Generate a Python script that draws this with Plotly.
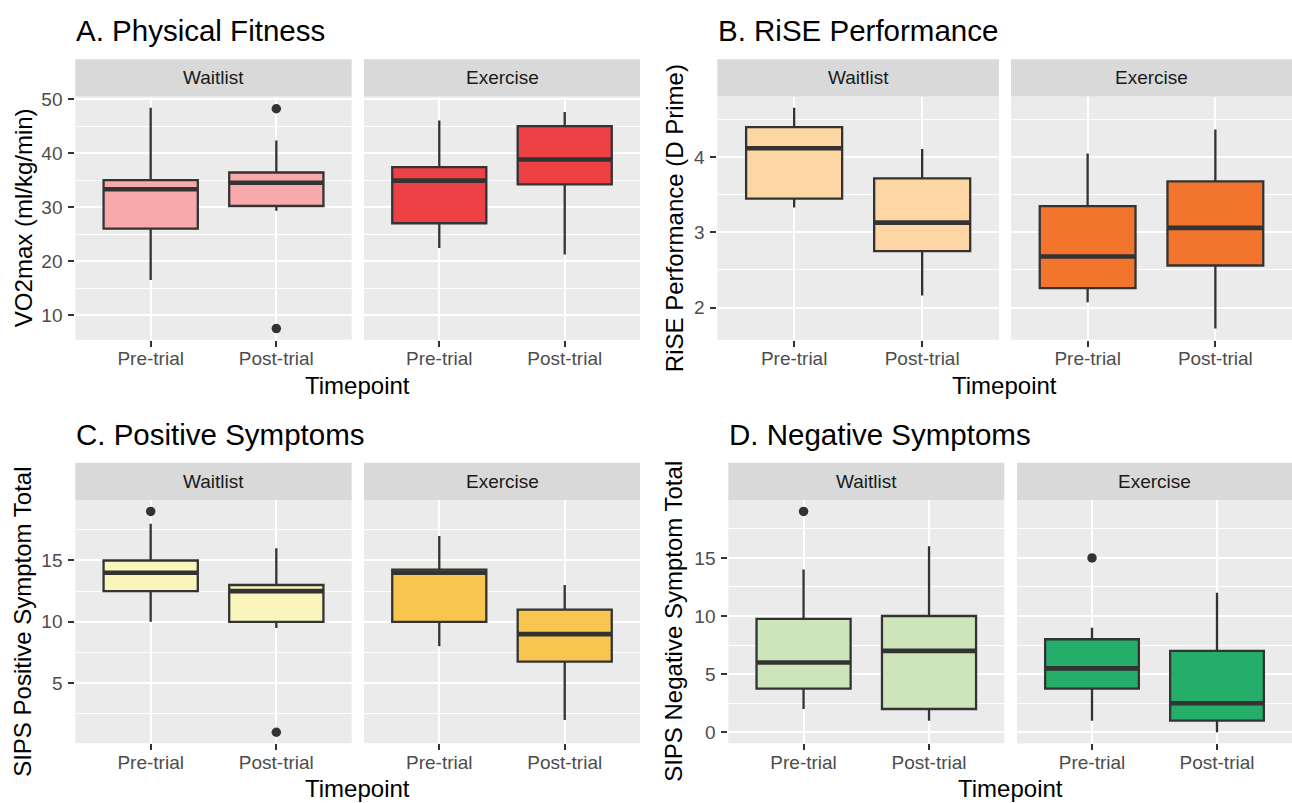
import plotly.graph_objects as go

FIG_W, FIG_H = 1292, 803
FONT = "Liberation Sans, Arial, Helvetica, sans-serif"

groups = ["Waitlist", "Exercise"]
timepoints = ["Pre-trial", "Post-trial"]

# Box statistics, ordered: Waitlist pre, Waitlist post, Exercise pre, Exercise post
vo2_q1 = [26.0, 30.2, 27.0, 34.2]
vo2_median = [33.3, 34.5, 34.9, 38.8]
vo2_q3 = [35.0, 36.4, 37.4, 45.0]
vo2_lower = [16.5, 29.3, 22.4, 21.2]
vo2_upper = [48.4, 42.3, 46.0, 47.6]
vo2_out_group = ["Waitlist", "Waitlist"]
vo2_out_time = ["Post-trial", "Post-trial"]
vo2_out_value = [48.2, 7.5]

rise_q1 = [3.45, 2.75, 2.26, 2.56]
rise_median = [4.12, 3.13, 2.68, 3.06]
rise_q3 = [4.40, 3.72, 3.35, 3.68]
rise_lower = [3.33, 2.16, 2.07, 1.72]
rise_upper = [4.66, 4.11, 4.05, 4.37]
rise_out_group = []
rise_out_time = []
rise_out_value = []

pos_q1 = [12.5, 10.0, 10.0, 6.75]
pos_median = [14.0, 12.5, 14.0, 9.0]
pos_q3 = [15.0, 13.0, 14.25, 11.0]
pos_lower = [10.0, 9.5, 8.0, 2.0]
pos_upper = [18.0, 16.0, 17.0, 13.0]
pos_out_group = ["Waitlist", "Waitlist"]
pos_out_time = ["Pre-trial", "Post-trial"]
pos_out_value = [19.0, 1.0]

neg_q1 = [3.75, 2.0, 3.75, 1.0]
neg_median = [6.0, 7.0, 5.5, 2.5]
neg_q3 = [9.75, 10.0, 8.0, 7.0]
neg_lower = [2.0, 1.0, 1.0, 0.0]
neg_upper = [14.0, 16.0, 9.0, 12.0]
neg_out_group = ["Waitlist", "Exercise"]
neg_out_time = ["Pre-trial", "Pre-trial"]
neg_out_value = [19.0, 15.0]

panels = [
    dict(title="A. Physical Fitness", ytitle="VO2max (ml/kg/min)",
         q1=vo2_q1, med=vo2_median, q3=vo2_q3, lo=vo2_lower, hi=vo2_upper,
         og=vo2_out_group, ot=vo2_out_time, ov=vo2_out_value,
         colors=["#F7A9AC", "#EE4146"], dtick=10, tick0=0,
         cols=[(75.3, 351.7), (364.0, 640.0)], row=0, ytitle_x=23),
    dict(title="B. RiSE Performance", ytitle="RiSE Performance (D Prime)",
         q1=rise_q1, med=rise_median, q3=rise_q3, lo=rise_lower, hi=rise_upper,
         og=rise_out_group, ot=rise_out_time, ov=rise_out_value,
         colors=["#FDD6A3", "#F3742D"], dtick=1, tick0=0,
         cols=[(717.3, 999.0), (1011.0, 1292.0)], row=0, ytitle_x=674),
    dict(title="C. Positive Symptoms", ytitle="SIPS Positive Symptom Total",
         q1=pos_q1, med=pos_median, q3=pos_q3, lo=pos_lower, hi=pos_upper,
         og=pos_out_group, ot=pos_out_time, ov=pos_out_value,
         colors=["#F9F5BB", "#F8C54F"], dtick=5, tick0=0,
         cols=[(75.3, 351.7), (364.0, 640.0)], row=1, ytitle_x=23),
    dict(title="D. Negative Symptoms", ytitle="SIPS Negative Symptom Total",
         q1=neg_q1, med=neg_median, q3=neg_q3, lo=neg_lower, hi=neg_upper,
         og=neg_out_group, ot=neg_out_time, ov=neg_out_value,
         colors=["#CEE5BB", "#25AE6A"], dtick=5, tick0=0,
         cols=[(728.3, 1004.3), (1017.0, 1292.0)], row=1, ytitle_x=674),
]

# vertical layout of the two rows (pixels from top)
rows = [
    dict(strip_top=51.7, panel_top=89.5, panel_bottom=335.0, title_y=22.7, xtitle_y=381.0),
    dict(strip_top=459.3, panel_top=497.3, panel_bottom=742.7, title_y=430.3, xtitle_y=788.6),
]

BOX_W = 0.75
OUTLINE = "#333333"


def fx(px):
    return px / FIG_W


def fy(px):
    return 1 - px / FIG_H


fig = go.Figure()
layout = dict(
    width=FIG_W, height=FIG_H,
    margin=dict(l=0, r=0, t=0, b=0, pad=0),
    paper_bgcolor="white", plot_bgcolor="#EBEBEB",
    showlegend=False,
    font=dict(family=FONT),
)
shapes = []
annotations = []

ax = 0
for p in panels:
    r = rows[p["row"]]
    vals = p["lo"] + p["hi"] + p["ov"]
    vmin, vmax = min(vals), max(vals)
    pad = (vmax - vmin) * 0.05
    yrange = [vmin - pad, vmax + pad]

    for gi, g in enumerate(groups):
        ax += 1
        xa = "x" if ax == 1 else f"x{ax}"
        ya = "y" if ax == 1 else f"y{ax}"
        x0, x1 = p["cols"][gi]

        for ti, t in enumerate(timepoints):
            k = gi * 2 + ti
            pos = ti + 1
            fig.add_trace(go.Box(
                x=[pos], q1=[p["q1"][k]], median=[p["med"][k]], q3=[p["q3"][k]],
                lowerfence=[p["lo"][k]], upperfence=[p["hi"][k]],
                width=BOX_W, whiskerwidth=0, boxpoints=False,
                fillcolor=p["colors"][gi], line=dict(color=OUTLINE, width=2.3),
                xaxis=xa, yaxis=ya, hoverinfo="skip",
            ))
            # heavier median bar
            fig.add_trace(go.Scatter(
                x=[pos - BOX_W / 2, pos + BOX_W / 2], y=[p["med"][k], p["med"][k]],
                mode="lines", line=dict(color=OUTLINE, width=4.6),
                xaxis=xa, yaxis=ya, hoverinfo="skip",
            ))

        ox = [timepoints.index(t) + 1 for gg, t in zip(p["og"], p["ot"]) if gg == g]
        oy = [v for gg, v in zip(p["og"], p["ov"]) if gg == g]
        if oy:
            fig.add_trace(go.Scatter(
                x=ox, y=oy, mode="markers",
                marker=dict(color=OUTLINE, size=9.5, line=dict(width=0)),
                xaxis=xa, yaxis=ya, hoverinfo="skip",
            ))

        xkey = "xaxis" if ax == 1 else f"xaxis{ax}"
        ykey = "yaxis" if ax == 1 else f"yaxis{ax}"
        layout[xkey] = dict(
            domain=[fx(x0), fx(x1)], anchor=ya, range=[0.4, 2.6],
            tickmode="array", tickvals=[1, 2], ticktext=timepoints,
            showgrid=True, gridcolor="white", gridwidth=2.3,
            zeroline=False, showline=False,
            ticks="outside", ticklen=6, tickwidth=2.3, tickcolor=OUTLINE,
            tickfont=dict(family=FONT, size=19, color="#4D4D4D"),
            ticklabelstandoff=-4, fixedrange=True,
        )
        layout[ykey] = dict(
            domain=[fy(r["panel_bottom"]), fy(r["panel_top"])], anchor=xa,
            range=yrange, tick0=p["tick0"], dtick=p["dtick"],
            showgrid=True, gridcolor="white", gridwidth=2.3,
            minor=dict(tick0=p["tick0"] + p["dtick"] / 2, dtick=p["dtick"],
                       showgrid=True, gridcolor="white", gridwidth=1.15, ticks=""),
            zeroline=False, showline=False,
            showticklabels=(gi == 0),
            ticks="outside" if gi == 0 else "", ticklen=6, tickwidth=2.3, tickcolor=OUTLINE,
            tickfont=dict(family=FONT, size=19, color="#4D4D4D"),
            ticklabelstandoff=2, fixedrange=True,
        )

        # facet strip
        shapes.append(dict(type="rect", xref="paper", yref="paper",
                           x0=fx(x0), x1=fx(x1), y0=fy(r["panel_top"]), y1=fy(r["strip_top"]),
                           fillcolor="#D9D9D9", line=dict(width=0), layer="below"))
        annotations.append(dict(xref="paper", yref="paper",
                                x=fx((x0 + x1) / 2), y=fy((r["strip_top"] + r["panel_top"]) / 2),
                                text=g, showarrow=False, xanchor="center", yanchor="middle",
                                font=dict(family=FONT, size=19, color="#1A1A1A")))

    left = p["cols"][0][0]
    right = p["cols"][1][1]
    annotations.append(dict(xref="paper", yref="paper", x=fx(left - 1), y=fy(r["title_y"]),
                            text=p["title"], showarrow=False, xanchor="left", yanchor="middle",
                            font=dict(family=FONT, size=29.5, color="black")))
    annotations.append(dict(xref="paper", yref="paper", x=fx((left + right) / 2), y=fy(r["xtitle_y"]),
                            text="Timepoint", showarrow=False, xanchor="center", yanchor="middle",
                            font=dict(family=FONT, size=24, color="black")))
    annotations.append(dict(xref="paper", yref="paper", x=fx(p["ytitle_x"]),
                            y=fy((r["panel_top"] + r["panel_bottom"]) / 2),
                            text=p["ytitle"], textangle=-90, showarrow=False,
                            xanchor="center", yanchor="middle",
                            font=dict(family=FONT, size=24, color="black")))

layout["shapes"] = shapes
layout["annotations"] = annotations
fig.update_layout(**layout)
fig.write_html("out.html")
